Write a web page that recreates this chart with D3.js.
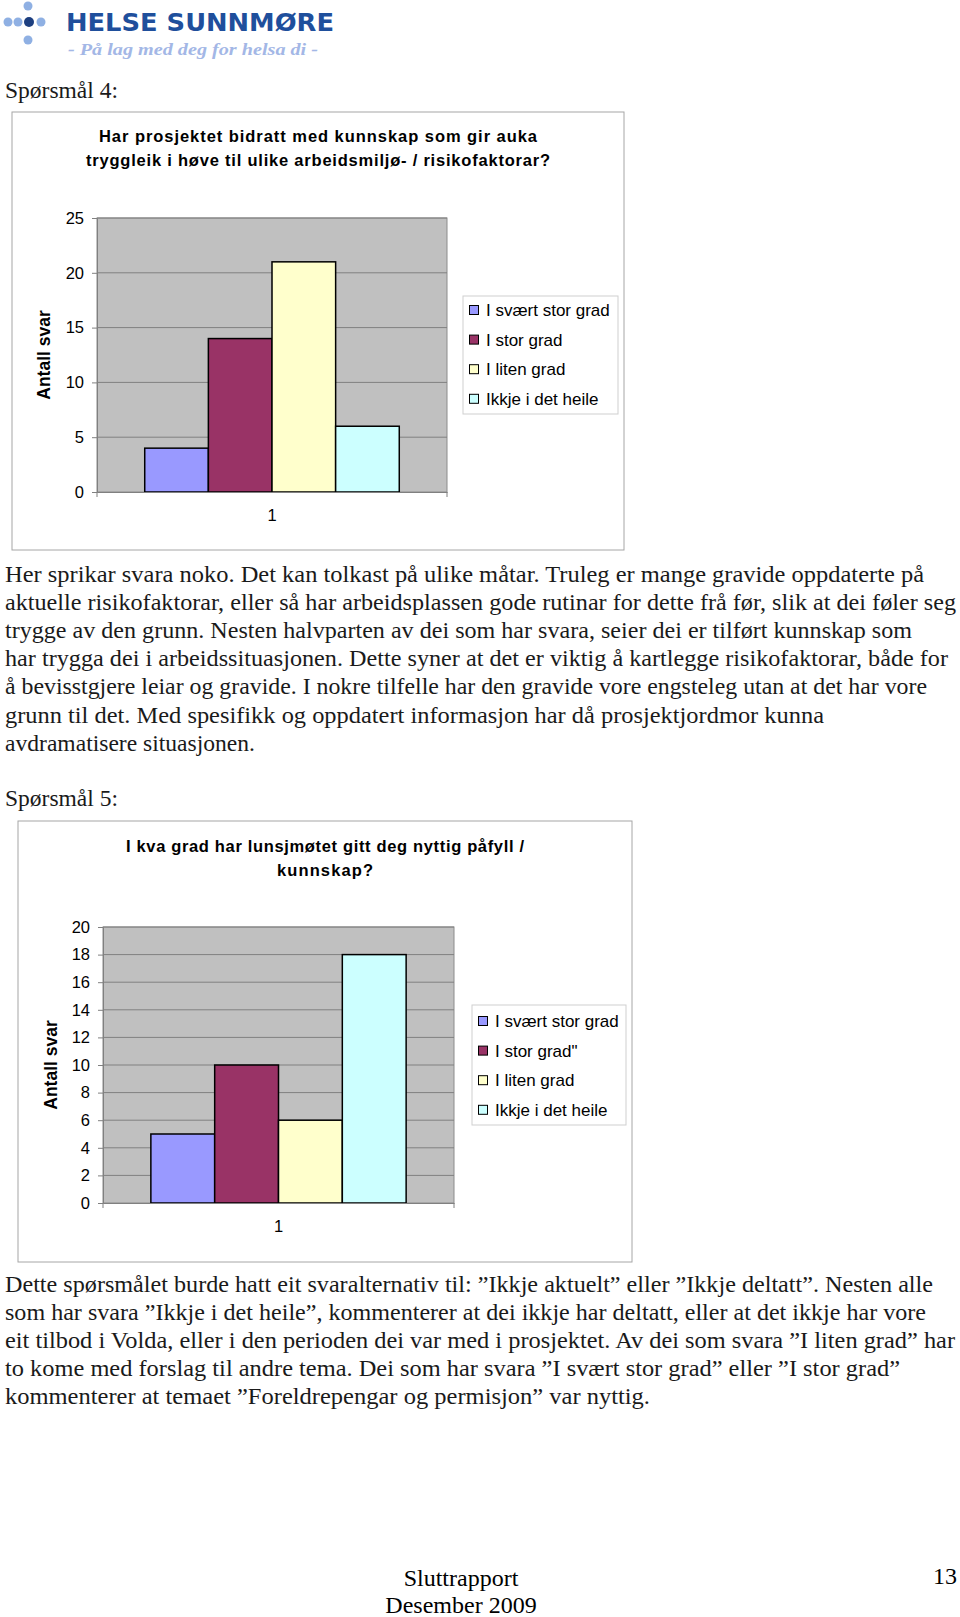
<!DOCTYPE html>
<html>
<head>
<meta charset="utf-8">
<script src="https://cdn.jsdelivr.net/npm/d3@7"></script>
<style>
  body { margin: 0; background: #fff; }
  svg { display: block; }
</style>
</head>
<body>
<svg id="page" width="960" height="1617"></svg>
<script>

// data for the two charts
var categories = ["1"];
var seriesColors = ["#9999ff", "#993366", "#ffffcc", "#ccffff"];

var q4Title = ["Har prosjektet bidratt med kunnskap som gir auka",
               "tryggleik i høve til ulike arbeidsmiljø- / risikofaktorar?"];
var q4Series = ["I svært stor grad", "I stor grad", "I liten grad", "Ikkje i det heile"];
var q4Values = [4, 14, 21, 6];
var q4Ticks = [0, 5, 10, 15, 20, 25];

var q5Title = ["I kva grad har lunsjmøtet gitt deg nyttig påfyll /", "kunnskap?"];
var q5Series = ["I svært stor grad", "I stor grad\"", "I liten grad", "Ikkje i det heile"];
var q5Values = [5, 10, 6, 18];
var q5Ticks = [0, 2, 4, 6, 8, 10, 12, 14, 16, 18, 20];

var para1 = [
  "Her sprikar svara noko. Det kan tolkast på ulike måtar. Truleg er mange gravide oppdaterte på",
  "aktuelle risikofaktorar, eller så har arbeidsplassen gode rutinar for dette frå før, slik at dei føler seg",
  "trygge av den grunn. Nesten halvparten av dei som har svara, seier dei er tilført kunnskap som",
  "har trygga dei i arbeidssituasjonen. Dette syner at det er viktig å kartlegge risikofaktorar, både for",
  "å bevisstgjere leiar og gravide. I nokre tilfelle har den gravide vore engsteleg utan at det har vore",
  "grunn til det. Med spesifikk og oppdatert informasjon har då prosjektjordmor kunna",
  "avdramatisere situasjonen."
];
var para2 = [
  "Dette spørsmålet burde hatt eit svaralternativ til: ”Ikkje aktuelt” eller ”Ikkje deltatt”. Nesten alle",
  "som har svara ”Ikkje i det heile”, kommenterer at dei ikkje har deltatt, eller at det ikkje har vore",
  "eit tilbod i Volda, eller i den perioden dei var med i prosjektet. Av dei som svara ”I liten grad” har",
  "to kome med forslag til andre tema. Dei som har svara ”I svært stor grad” eller ”I stor grad”",
  "kommenterer at temaet ”Foreldrepengar og permisjon” var nyttig."
];

var svg = d3.select("#page");
var sans = "'Liberation Sans', Arial, sans-serif";
var serif = "'Liberation Serif', 'Times New Roman', serif";

svg.append("rect").attr("width", 960).attr("height", 1617).attr("fill", "#fff");

// logo
var dots = [[28, 6, 4.5, "#8fb0e3"], [8, 22, 4.5, "#8fb0e3"], [18, 22, 4.5, "#8fb0e3"],
            [29, 22, 5, "#1d3f80"], [41, 22, 4.5, "#8fb0e3"], [28, 40, 4.5, "#8fb0e3"]];
svg.selectAll("circle.logo")
  .data(dots)
  .enter().append("circle")
    .attr("class", "logo")
    .attr("cx", d => d[0]).attr("cy", d => d[1]).attr("r", d => d[2])
    .attr("fill", d => d[3]);
svg.append("text")
  .attr("x", 66).attr("y", 31)
  .attr("textLength", 268).attr("lengthAdjust", "spacingAndGlyphs")
  .style("font-family", "'DejaVu Sans', sans-serif").style("font-weight", "bold")
  .style("font-size", "24px").attr("fill", "#1f4f9c")
  .text("HELSE SUNNMØRE");
svg.append("text")
  .attr("x", 68).attr("y", 55)
  .attr("textLength", 250).attr("lengthAdjust", "spacingAndGlyphs")
  .style("font-family", serif).style("font-weight", "bold").style("font-style", "italic")
  .style("font-size", "16px").attr("fill", "#a3b7e6")
  .text("- På lag med deg for helsa di -");

function bodyText(str, x, y, width) {
  var t = svg.append("text")
    .attr("x", x).attr("y", y)
    .style("font-family", serif).style("font-size", "23px").attr("fill", "#1a1a1a")
    .text(str);
  if (width) t.attr("textLength", width).attr("lengthAdjust", "spacingAndGlyphs");
  return t;
}

bodyText("Spørsmål 4:", 5, 98, 113);
bodyText("Spørsmål 5:", 5, 806, 113);

var para1Widths = [919, 951, 907, 943, 922, 819, 250];
para1.forEach(function(line, i) {
  bodyText(line, 5, 582 + i * 28.1, para1Widths[i]);
});
var para2Widths = [928, 921, 950, 895, 645];
para2.forEach(function(line, i) {
  bodyText(line, 5, 1292 + i * 28, para2Widths[i]);
});

// footer
svg.append("text").attr("x", 461).attr("y", 1586).attr("text-anchor", "middle")
  .style("font-family", serif).style("font-size", "24px").text("Sluttrapport");
svg.append("text").attr("x", 461).attr("y", 1613).attr("text-anchor", "middle")
  .style("font-family", serif).style("font-size", "24px").text("Desember 2009");
svg.append("text").attr("x", 957).attr("y", 1584).attr("text-anchor", "end")
  .style("font-family", serif).style("font-size", "24px").text("13");

function drawChart(c) {
  var g = svg.append("g");

  g.append("rect")
    .attr("x", c.frame[0]).attr("y", c.frame[1])
    .attr("width", c.frame[2] - c.frame[0]).attr("height", c.frame[3] - c.frame[1])
    .attr("fill", "#fff").attr("stroke", "#a6a6a6");

  // title, two lines
  c.title.forEach(function(line, i) {
    g.append("text")
      .attr("x", c.titleX).attr("y", c.titleY + i * 24)
      .attr("text-anchor", "middle")
      .attr("textLength", c.titleWidths[i]).attr("lengthAdjust", "spacing")
      .style("font-family", sans).style("font-weight", "bold").style("font-size", "16.5px")
      .text(line);
  });

  var x0 = d3.scaleBand()
    .domain(categories)
    .range([c.plot[0], c.plot[2]]);
  var x1 = d3.scaleBand()
    .domain(c.series)
    .range([0, x0.bandwidth()])
    .paddingOuter(0.75);
  var y = d3.scaleLinear()
    .domain([0, d3.max(c.ticks)])
    .range([c.plot[3], c.plot[1]]);

  g.append("rect")
    .attr("x", c.plot[0]).attr("y", c.plot[1])
    .attr("width", c.plot[2] - c.plot[0]).attr("height", c.plot[3] - c.plot[1])
    .attr("fill", "#c0c0c0").attr("stroke", "#8c8c8c");

  // gridlines
  g.selectAll("line.grid")
    .data(c.ticks.slice(1))
    .enter().append("line")
      .attr("x1", c.plot[0]).attr("x2", c.plot[2])
      .attr("y1", d => y(d)).attr("y2", d => y(d))
      .attr("stroke", "#808080");

  var rows = c.series.map((s, i) => ({ name: s, value: c.values[i], color: seriesColors[i] }));

  g.append("g").selectAll("rect")
    .data(rows)
    .enter().append("rect")
      .attr("x", d => x0(categories[0]) + x1(d.name))
      .attr("y", d => y(d.value))
      .attr("width", x1.bandwidth())
      .attr("height", d => y(0) - y(d.value))
      .attr("fill", d => d.color)
      .attr("stroke", "#000").attr("stroke-width", 1.5);

  var yAxis = d3.axisLeft(y)
    .tickValues(c.ticks)
    .tickSize(5)
    .tickPadding(8);
  var ya = g.append("g")
    .attr("transform", "translate(" + c.plot[0] + ",0)")
    .call(yAxis);
  ya.select(".domain").attr("stroke", "#808080");
  ya.selectAll(".tick line").attr("stroke", "#808080");
  ya.selectAll("text")
    .style("font-family", sans).style("font-size", "16.5px").attr("fill", "#000");

  var xAxis = d3.axisBottom(x0).tickSize(0).tickPadding(17);
  var xa = g.append("g")
    .attr("transform", "translate(0," + c.plot[3] + ")")
    .call(xAxis);
  xa.select(".domain").attr("stroke", "#808080");
  xa.selectAll("text")
    .style("font-family", sans).style("font-size", "16.5px").attr("fill", "#000");
  // tick marks at category edges
  xa.selectAll("line.edge")
    .data(x0.range())
    .enter().append("line")
      .attr("x1", d => d).attr("x2", d => d)
      .attr("y1", 0).attr("y2", 5)
      .attr("stroke", "#808080");

  g.append("text")
    .attr("transform", "translate(" + c.yTitle[0] + "," + c.yTitle[1] + ") rotate(-90)")
    .attr("text-anchor", "middle").attr("dy", "0.35em")
    .style("font-family", sans).style("font-weight", "bold").style("font-size", "17.5px")
    .text("Antall svar");

  // legend
  var lg = g.append("g");
  lg.append("rect")
    .attr("x", c.legend[0]).attr("y", c.legend[1])
    .attr("width", c.legend[2] - c.legend[0]).attr("height", c.legend[3] - c.legend[1])
    .attr("fill", "#fff").attr("stroke", "#cfcfcf");
  var item = lg.selectAll("g.item")
    .data(rows)
    .enter().append("g")
      .attr("transform", (d, i) => "translate(" + (c.legend[0] + 6) + "," + (c.legendY + i * 29.6) + ")");
  item.append("rect")
    .attr("x", 0.5).attr("y", -4.5).attr("width", 9).attr("height", 9)
    .attr("fill", d => d.color).attr("stroke", "#000");
  item.append("text")
    .attr("x", 17).attr("dy", "0.35em")
    .style("font-family", sans).style("font-size", "17px")
    .text(d => d.name);
}

drawChart({
  frame: [12, 112, 624, 550],
  plot: [97, 218, 447, 492],
  title: q4Title, titleX: 318, titleY: 142, titleWidths: [438, 464],
  series: q4Series, values: q4Values, ticks: q4Ticks,
  yTitle: [44, 355],
  legend: [463, 296, 618, 414], legendY: 310
});

drawChart({
  frame: [18, 821, 632, 1262],
  plot: [103, 927, 454, 1203],
  title: q5Title, titleX: 325, titleY: 852, titleWidths: [398, 96],
  series: q5Series, values: q5Values, ticks: q5Ticks,
  yTitle: [51, 1065],
  legend: [472, 1005, 626, 1125], legendY: 1021
});
</script>
</body>
</html>
